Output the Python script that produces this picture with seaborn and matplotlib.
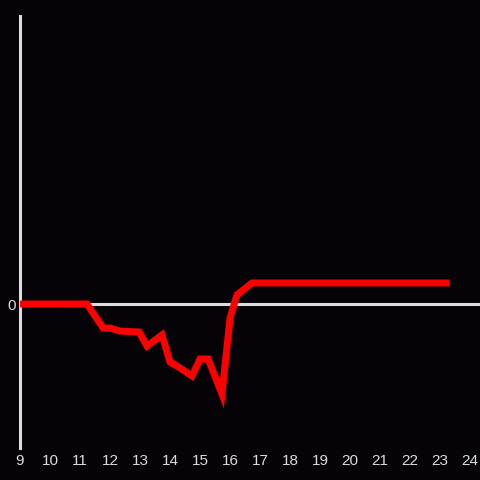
import matplotlib
matplotlib.use("Agg")
import matplotlib.pyplot as plt
import seaborn as sns
import pandas as pd

hours = [9.0, 11.23, 11.77, 12.0, 12.33, 12.97, 13.23, 13.73, 14.0, 14.33, 14.73, 15.0, 15.27,
         15.73, 16.0, 16.23, 16.73, 23.3]
values = [0.0, 0.0, -0.167, -0.167, -0.188, -0.194, -0.292, -0.215, -0.403, -0.444, -0.5, -0.382, -0.382,
          -0.625, -0.097, 0.063, 0.146, 0.146]
xticks = list(range(9, 25))

sns.set_theme(style="dark")
bg = "#050308"
axis_col = "#dcdcdc"
plt.rcParams['font.family'] = ['Liberation Sans', 'DejaVu Sans']

fig = plt.figure(figsize=(4.8, 4.8), dpi=100, facecolor=bg)
ax = fig.add_axes([20/480, 32/480, 460/480, 432/480])
ax.set_facecolor(bg)

df = pd.DataFrame({"hour": hours, "value": values})
ax.axhline(0, color=axis_col, lw=2.2, zorder=1)
sns.lineplot(data=df, x="hour", y="value", ax=ax, color="#ff0000", lw=5,
             solid_joinstyle="miter", solid_capstyle="butt", zorder=3)

ax.set_xlim(9, 24.33)
ax.set_ylim(-1, 2)
ax.set_xticks(xticks)
ax.set_xticklabels([str(t) for t in xticks])
ax.set_yticks([0])
ax.set_yticklabels(["0"])
ax.tick_params(axis="both", length=0, colors=axis_col, labelsize=11, pad=4)
ax.tick_params(axis="y", pad=3)
ax.grid(False)
ax.set_xlabel("")
ax.set_ylabel("")
for s in ["top", "right", "bottom"]:
    ax.spines[s].set_visible(False)
ax.spines["left"].set_color(axis_col)
ax.spines["left"].set_linewidth(2.2)

fig.savefig("out.png", dpi=100, facecolor=bg)
